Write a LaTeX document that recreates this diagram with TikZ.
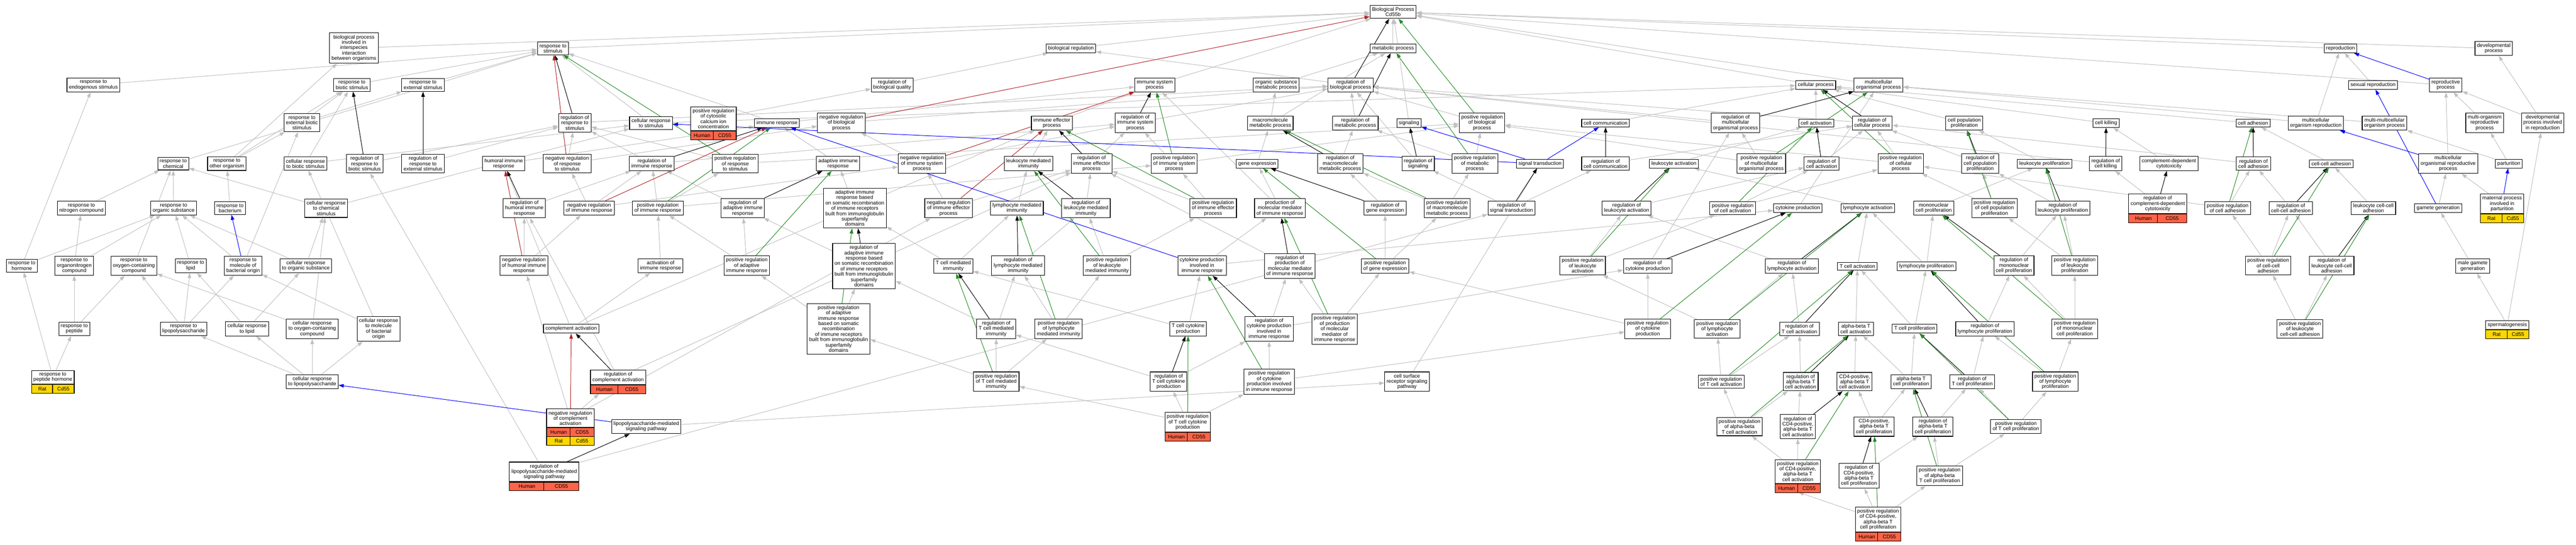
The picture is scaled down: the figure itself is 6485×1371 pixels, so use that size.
\documentclass[tikz,border=0pt]{standalone}
\usepackage{fontspec}
\setmainfont{Liberation Sans}
\usepackage{tikz}
\usetikzlibrary{calc}
\usetikzlibrary{arrows.meta}
\usetikzlibrary{backgrounds}

\definecolor{isagrey}{HTML}{C0C0C0}
\definecolor{posgreen}{HTML}{228B22}
\definecolor{negred}{HTML}{B22222}
\definecolor{partblue}{HTML}{0000FF}
\definecolor{human}{HTML}{FF6347}
\definecolor{rat}{HTML}{FFD700}

\tikzset{
  term/.style={draw, line width=1.4pt, fill=white, align=center,
    font=\fontsize{13}{13.5}\selectfont, inner xsep=5pt, inner ysep=5pt},
  genecell/.style={draw, line width=1.4pt, inner sep=0pt, minimum height=22pt,
    font=\fontsize{13}{13.5}\selectfont},
  link/.style={line width=1.3pt, -{Triangle[length=13pt,width=9pt]}},
  isa/.style={link, isagrey},
  reg/.style={link, black},
  posreg/.style={link, posgreen},
  negreg/.style={link, negred},
  partof/.style={link, partblue}
}

% gene row under a term: [shift]{term}{row}{colour}{species}{gene}
\newcommand{\genes}[6][0pt]{%
  \path let \p1 = ($(#2.east)-(#2.west)$) in
    node[genecell, fill=#4, minimum width=0.5*\x1, anchor=north west, yshift=-#1] (#3-s) at (#2.south west) {#5}
    node[genecell, fill=#4, minimum width=0.5*\x1, anchor=north east, yshift=-#1] (#3-g) at (#2.south east) {#6};}

\begin{document}
\begin{tikzpicture}[x=1pt, y=-1pt]
  \useasboundingbox (0,0) rectangle (6485,1371);

  % top
  \node[term] (root) at (3507,30) {Biological Process\\Cd55b};
  \node[term] (bpint) at (891,121) {biological process\\involved in\\interspecies\\interaction\\between organisms};
  \node[term] (rstim) at (1392,122) {response to\\stimulus};
  \node[term] (bioreg) at (2696,122) {biological regulation};
  \node[term] (metab) at (3507,122) {metabolic process};
  \node[term] (repro) at (5892,122) {reproduction};
  \node[term] (devproc) at (6278,122) {developmental\\process};

  \node[term] (rendo) at (235,214) {response to\\endogenous stimulus};
  \node[term] (rbiot) at (886,214) {response to\\biotic stimulus};
  \node[term] (rext) at (1065,214) {response to\\external stimulus};
  \node[term] (regbq) at (2246,214) {regulation of\\biological quality};
  \node[term] (imsys) at (2907,214) {immune system\\process};
  \node[term] (orgmet) at (3213,214) {organic substance\\metabolic process};
  \node[term] (regbp) at (3400,214) {regulation of\\biological process};
  \node[term] (cellproc) at (4571,214) {cellular process};
  \node[term] (multorg) at (4729,214) {multicellular\\organismal process};
  \node[term] (sexrep) at (5974,214) {sexual reproduction};
  \node[term] (repproc) at (6157,214) {reproductive\\process};

  \node[term] (rextbio) at (760,309) {response to\\external biotic\\stimulus};
  \node[term] (regrstim) at (1447,309) {regulation of\\response to\\stimulus};
  \node[term] (cellrstim) at (1639,310) {cellular response\\to stimulus};
  \node[term] (posca) at (1796,299) {positive regulation\\of cytosolic\\calcium ion\\concentration};
  \genes{posca}{posca}{human}{Human}{CD55}
  \node[term] (imresp) at (1956,310) {immune response};
  \node[term] (negbp) at (2118,309) {negative regulation\\of biological\\process};
  \node[term] (imeff) at (2648,310) {immune effector\\process};
  \node[term] (regimsys) at (2858,309) {regulation of\\immune system\\process};
  \node[term] (macmet) at (3198,310) {macromolecule\\metabolic process};
  \node[term] (regmet) at (3412,310) {regulation of\\metabolic process};
  \node[term] (signaling) at (3547,310) {signaling};
  \node[term] (posbp) at (3731,309) {positive regulation\\of biological\\process};
  \node[term] (cellcomm) at (4042,310) {cell communication};
  \node[term] (regmulti) at (4369,309) {regulation of\\multicellular\\organismal process};
  \node[term] (cellact) at (4572,310) {cell activation};
  \node[term] (regcellproc) at (4713,310) {regulation of\\cellular process};
  \node[term] (cellpop) at (4945,310) {cell population\\proliferation};
  \node[term] (cellkill) at (5302,310) {cell killing};
  \node[term] (celladh) at (5672,310) {cell adhesion};
  \node[term] (multrepro) at (5830,310) {multicellular\\organism reproduction};
  \node[term] (multmulti) at (6003,310) {multi-multicellular\\organism process};
  \node[term] (multorgrep) at (6255,309) {multi-organism\\reproductive\\process};
  \node[term] (devrepro) at (6401,309) {developmental\\process involved\\in reproduction};

  \node[term] (rchem) at (436,412) {response to\\chemical};
  \node[term] (rother) at (571,412) {response to\\other organism};
  \node[term] (cellrbiot) at (769,412) {cellular response\\to biotic stimulus};
  \node[term] (regrbiot) at (918,412) {regulation of\\response to\\biotic stimulus};
  \node[term] (regrext) at (1065,412) {regulation of\\response to\\external stimulus};
  \node[term] (humoral) at (1268,412) {humoral immune\\response};
  \node[term] (negrstim) at (1428,412) {negative regulation\\of response\\to stimulus};
  \node[term] (regimresp) at (1641,412) {regulation of\\immune response};
  \node[term] (posrstim) at (1851,412) {positive regulation\\of response\\to stimulus};
  \node[term] (adaptive) at (2110,412) {adaptive immune\\response};
  \node[term] (negimsys) at (2321,412) {negative regulation\\of immune system\\process};
  \node[term] (leukmed) at (2589,412) {leukocyte mediated\\immunity};
  \node[term] (regimeff) at (2748,412) {regulation of\\immune effector\\process};
  \node[term] (posimsys) at (2956,412) {positive regulation\\of immune system\\process};
  \node[term] (geneexp) at (3165,412) {gene expression};
  \node[term] (regmacmet) at (3374,412) {regulation of\\macromolecule\\metabolic process};
  \node[term] (regsig) at (3570,412) {regulation of\\signaling};
  \node[term] (posmet) at (3713,412) {positive regulation\\of metabolic\\process};
  \node[term] (sigtrans) at (3877,412) {signal transduction};
  \node[term] (regcomm) at (4042,412) {regulation of\\cell communication};
  \node[term] (leukact) at (4214,412) {leukocyte activation};
  \node[term] (posmulti) at (4434,412) {positive regulation\\of multicellular\\organismal process};
  \node[term] (regcellact) at (4586,412) {regulation of\\cell activation};
  \node[term] (poscellproc) at (4785,412) {positive regulation\\of cellular\\process};
  \node[term] (regcellpop) at (4985,412) {regulation of\\cell population\\proliferation};
  \node[term] (leukprol) at (5147,412) {leukocyte proliferation};
  \node[term] (regkill) at (5301,412) {regulation of\\cell killing};
  \node[term] (cdc) at (5460,412) {complement-dependent\\cytotoxicity};
  \node[term] (regadh) at (5673,412) {regulation of\\cell adhesion};
  \node[term] (ccadh) at (5869,412) {cell-cell adhesion};
  \node[term] (multrepproc) at (6163,412) {multicellular\\organismal reproductive\\process};
  \node[term] (parturition) at (6316,412) {parturition};

  \node[term] (rnitro) at (205,524) {response to\\nitrogen compound};
  \node[term] (rorg) at (437,524) {response to\\organic substance};
  \node[term] (rbact) at (579,524) {response to\\bacterium};
  \node[term] (cellrchem) at (821,524) {cellular response\\to chemical\\stimulus};
  \node[term] (reghumoral) at (1320,524) {regulation of\\humoral immune\\response};
  \node[term] (negimresp) at (1483,524) {negative regulation\\of immune response};
  \node[term] (posimresp) at (1656,524) {positive regulation\\of immune response};
  \node[term] (regadapt) at (1870,524) {regulation of\\adaptive immune\\response};
  \node[term] (adaptsom) at (2152,524) {adaptive immune\\response based\\on somatic recombination\\of immune receptors\\built from immunoglobulin\\superfamily\\domains};
  \node[term] (negimeff) at (2388,524) {negative regulation\\of immune effector\\process};
  \node[term] (lymphmed) at (2560,524) {lymphocyte mediated\\immunity};
  \node[term] (regleukmed) at (2734,524) {regulation of\\leukocyte mediated\\immunity};
  \node[term] (posimeff) at (3054,524) {positive regulation\\of immune effector\\process};
  \node[term] (prodmm) at (3222,524) {production of\\molecular mediator\\of immune response};
  \node[term] (reggene) at (3487,524) {regulation of\\gene expression};
  \node[term] (posmacmet) at (3643,524) {positive regulation\\of macromolecule\\metabolic process};
  \node[term] (regsigtrans) at (3805,524) {regulation of\\signal transduction};
  \node[term] (regleukact) at (4095,524) {regulation of\\leukocyte activation};
  \node[term] (poscellact) at (4362,524) {positive regulation\\of cell activation};
  \node[term] (cytprod) at (4526,524) {cytokine production};
  \node[term] (lymphact) at (4702,524) {lymphocyte activation};
  \node[term] (mononuc) at (4868,524) {mononuclear\\cell proliferation};
  \node[term] (poscellpop) at (5021,524) {positive regulation\\of cell population\\proliferation};
  \node[term] (regleukprol) at (5193,524) {regulation of\\leukocyte proliferation};
  \node[term] (regcdc) at (5432,513) {regulation of\\complement-dependent\\cytotoxicity};
  \genes{regcdc}{regcdc}{human}{Human}{CD55}
  \node[term] (posadh) at (5608,524) {positive regulation\\of cell adhesion};
  \node[term] (regccadh) at (5767,524) {regulation of\\cell-cell adhesion};
  \node[term] (leukccadh) at (5975,524) {leukocyte cell-cell\\adhesion};
  \node[term] (gamete) at (6138,524) {gamete generation};
  \node[term] (maternal) at (6299,513) {maternal process\\involved in\\parturition};
  \genes{maternal}{maternal}{rat}{Rat}{Cd55}

  \node[term] (rhormone) at (55,669) {response to\\hormone};
  \node[term] (rorgnitro) at (187,669) {response to\\organonitrogen\\compound};
  \node[term] (roxy) at (337,669) {response to\\oxygen-containing\\compound};
  \node[term] (rlipid) at (480,669) {response to\\lipid};
  \node[term] (rmolbact) at (612,669) {response to\\molecule of\\bacterial origin};
  \node[term] (cellrorg) at (770,669) {cellular response\\to organic substance};
  \node[term] (neghumoral) at (1319,669) {negative regulation\\of humoral immune\\response};
  \node[term] (actimresp) at (1663,669) {activation of\\immune response};
  \node[term] (posadapt) at (1880,669) {positive regulation\\of adaptive\\immune response};
  \node[term] (regadaptsom) at (2175,670) {regulation of\\adaptive immune\\response based\\on somatic recombination\\of immune receptors\\built from immunoglobulin\\superfamily\\domains};
  \node[term] (tcellmed) at (2400,670) {T cell mediated\\immunity};
  \node[term] (reglymphmed) at (2563,669) {regulation of\\lymphocyte mediated\\immunity};
  \node[term] (posleukmed) at (2787,669) {positive regulation\\of leukocyte\\mediated immunity};
  \node[term] (cytimresp) at (3026,669) {cytokine production\\involved in\\immune response};
  \node[term] (regprodmm) at (3247,670) {regulation of\\production of\\molecular mediator\\of immune response};
  \node[term] (posgene) at (3487,670) {positive regulation\\of gene expression};
  \node[term] (posleukact) at (3984,669) {positive regulation\\of leukocyte\\activation};
  \node[term] (regcyt) at (4148,670) {regulation of\\cytokine production};
  \node[term] (reglymphact) at (4511,670) {regulation of\\lymphocyte activation};
  \node[term] (tcellact) at (4676,670) {T cell activation};
  \node[term] (lymphprol) at (4850,670) {lymphocyte proliferation};
  \node[term] (regmononuc) at (5070,669) {regulation of\\mononuclear\\cell proliferation};
  \node[term] (posleukprol) at (5223,669) {positive regulation\\of leukocyte\\proliferation};
  \node[term] (posccadh) at (5710,669) {positive regulation\\of cell-cell\\adhesion};
  \node[term] (regleukccadh) at (5870,669) {regulation of\\leukocyte cell-cell\\adhesion};
  \node[term] (malegam) at (6225,670) {male gamete\\generation};

  \node[term] (rpeptide) at (187,828) {response to\\peptide};
  \node[term] (rlps) at (462,828) {response to\\lipopolysaccharide};
  \node[term] (cellrlipid) at (622,828) {cellular response\\to lipid};
  \node[term] (cellroxy) at (786,828) {cellular response\\to oxygen-containing\\compound};
  \node[term] (cellrmolbact) at (953,828) {cellular response\\to molecule\\of bacterial\\origin};
  \node[term] (complact) at (1438,828) {complement activation};
  \node[term] (posadaptsom) at (2111,828) {positive regulation\\of adaptive\\immune response\\based on somatic\\recombination\\of immune receptors\\built from immunoglobulin\\superfamily\\domains};
  \node[term] (regtcellmed) at (2508,828) {regulation of\\T cell mediated\\immunity};
  \node[term] (poslymphmed) at (2665,828) {positive regulation\\of lymphocyte\\mediated immunity};
  \node[term] (tcellcyt) at (2991,828) {T cell cytokine\\production};
  \node[term] (regcytimresp) at (3195,828) {regulation of\\cytokine production\\involved in\\immune response};
  \node[term] (posprodmm) at (3360,829) {positive regulation\\of production\\of molecular\\mediator of\\immune response};
  \node[term] (poscyt) at (4148,828) {positive regulation\\of cytokine\\production};
  \node[term] (poslymphact) at (4323,828) {positive regulation\\of lymphocyte\\activation};
  \node[term] (regtcellact) at (4530,828) {regulation of\\T cell activation};
  \node[term] (abtcellact) at (4672,828) {alpha-beta T\\cell activation};
  \node[term] (tcellprol) at (4820,828) {T cell proliferation};
  \node[term] (reglymphprol) at (4997,828) {regulation of\\lymphocyte proliferation};
  \node[term] (posmononuc) at (5223,828) {positive regulation\\of mononuclear\\cell proliferation};
  \node[term] (posleukccadh) at (5790,828) {positive regulation\\of leukocyte\\cell-cell adhesion};
  \node[term] (spermato) at (6312,818) {spermatogenesis};
  \genes{spermato}{spermato}{rat}{Rat}{Cd55}

  \node[term] (rpephorm) at (133,950) {response to\\peptide hormone};
  \genes{rpephorm}{rpephorm}{rat}{Rat}{Cd55}
  \node[term] (cellrlps) at (786,961) {cellular response\\to lipopolysaccharide};
  \node[term] (regcomplact) at (1556,950) {regulation of\\complement activation};
  \genes{regcomplact}{regcomplact}{human}{Human}{CD55}
  \node[term] (postcellmed) at (2508,961) {positive regulation\\of T cell mediated\\immunity};
  \node[term] (regtcellcyt) at (2942,961) {regulation of\\T cell cytokine\\production};
  \node[term] (poscytimresp) at (3195,961) {positive regulation\\of cytokine\\production involved\\in immune response};
  \node[term] (cellsurf) at (3542,961) {cell surface\\receptor signaling\\pathway};
  \node[term] (postcellact) at (4333,961) {positive regulation\\of T cell activation};
  \node[term] (regabtcellact) at (4533,961) {regulation of\\alpha-beta T\\cell activation};
  \node[term] (cd4act) at (4669,961) {CD4-positive,\\alpha-beta T\\cell activation};
  \node[term] (abtcellprol) at (4811,961) {alpha-beta T\\cell proliferation};
  \node[term] (regtcellprol) at (4965,961) {regulation of\\T cell proliferation};
  \node[term] (poslymphprol) at (5174,961) {positive regulation\\of lymphocyte\\proliferation};

  \node[term] (negcomplact) at (1436,1053) {negative regulation\\of complement\\activation};
  \genes{negcomplact}{negcomplact}{human}{Human}{CD55}
  \genes[22pt]{negcomplact}{negcomplactr}{rat}{Rat}{Cd55}
  \node[term] (lpssig) at (1627,1074) {lipopolysaccharide-mediated\\signaling pathway};
  \node[term] (postcellcyt) at (2990,1063) {positive regulation\\of T cell cytokine\\production};
  \genes{postcellcyt}{postcellcyt}{human}{Human}{CD55}
  \node[term] (posabtcellact) at (4379,1074) {positive regulation\\of alpha-beta\\T cell activation};
  \node[term] (regcd4act) at (4526,1074) {regulation of\\CD4-positive,\\alpha-beta T\\cell activation};
  \node[term] (cd4prol) at (4718,1074) {CD4-positive,\\alpha-beta T\\cell proliferation};
  \node[term] (regabtcellprol) at (4866,1074) {regulation of\\alpha-beta T\\cell proliferation};
  \node[term] (postcellprol) at (5075,1074) {positive regulation\\of T cell proliferation};

  \node[term] (reglpssig) at (1370,1188) {regulation of\\lipopolysaccharide-mediated\\signaling pathway};
  \genes{reglpssig}{reglpssig}{human}{Human}{CD55}
  \node[term] (poscd4act) at (4526,1187) {positive regulation\\of CD4-positive,\\alpha-beta T\\cell activation};
  \genes{poscd4act}{poscd4act}{human}{Human}{CD55}
  \node[term] (regcd4prol) at (4680,1198) {regulation of\\CD4-positive,\\alpha-beta T\\cell proliferation};
  \node[term] (posabtcellprol) at (4883,1198) {positive regulation\\of alpha-beta\\T cell proliferation};

  \node[term] (poscd4prol) at (4728,1308) {positive regulation\\of CD4-positive,\\alpha-beta T\\cell proliferation};
  \genes{poscd4prol}{poscd4prol}{human}{Human}{CD55}

  \begin{scope}[on background layer]
  \fill[white] (0,0) rectangle (6485,1371);
  % is_a
  \draw[isa] (bpint) -- (root); \draw[isa] (rstim) -- (root); \draw[isa] (bioreg) -- (root);
  \draw[isa] (metab) -- (root); \draw[isa] (repro) -- (root); \draw[isa] (devproc) -- (root);
  \draw[isa] (multorg) -- (root); \draw[isa] (cellproc) -- (root); \draw[isa] (imsys) -- (root);
  \draw[isa] (signaling) -- (root); \draw[isa] (repproc) -- (root);
  \draw[isa] (rendo) -- (rstim); \draw[isa] (rbiot) -- (rstim); \draw[isa] (rext) -- (rstim);
  \draw[isa] (regbq) -- (bioreg); \draw[isa] (orgmet) -- (metab); \draw[isa] (regbp) -- (bioreg);
  \draw[isa] (sexrep) -- (repro);
  \draw[isa] (rextbio) -- (rbiot); \draw[isa] (rextbio) -- (rext); \draw[isa] (regrstim) -- (regbp);
  \draw[isa] (cellrstim) -- (rstim); \draw[isa] (cellrstim) -- (cellproc); \draw[isa] (posca) -- (regbq);
  \draw[isa] (imresp) -- (rstim); \draw[isa] (imresp) -- (imsys); \draw[isa] (negbp) -- (regbp);
  \draw[isa] (imeff) -- (imsys); \draw[isa] (regimsys) -- (regbp); \draw[isa] (macmet) -- (metab);
  \draw[isa] (macmet) -- (orgmet); \draw[isa] (regmet) -- (regbp); \draw[isa] (posbp) -- (regbp);
  \draw[isa] (cellcomm) -- (cellproc); \draw[isa] (regmulti) -- (regbp); \draw[isa] (cellact) -- (cellproc);
  \draw[isa] (regcellproc) -- (regbp); \draw[isa] (cellpop) -- (cellproc); \draw[isa] (cellkill) -- (cellproc);
  \draw[isa] (celladh) -- (cellproc); \draw[isa] (multrepro) -- (repro); \draw[isa] (multrepro) -- (multorg);
  \draw[isa] (multmulti) -- (multorg); \draw[isa] (multorgrep) -- (repproc); \draw[isa] (devrepro) -- (devproc);
  \draw[isa] (devrepro) -- (repproc);
  \draw[isa] (rchem) -- (rstim); \draw[isa] (rother) -- (rbiot); \draw[isa] (rother) -- (bpint);
  \draw[isa] (rother) -- (rextbio); \draw[isa] (cellrbiot) -- (rbiot); \draw[isa] (cellrbiot) -- (cellrstim);
  \draw[isa] (regrbiot) -- (regrstim); \draw[isa] (regrext) -- (regrstim); \draw[isa] (humoral) -- (imresp);
  \draw[isa] (negrstim) -- (regrstim); \draw[isa] (negrstim) -- (negbp); \draw[isa] (regimresp) -- (regrstim);
  \draw[isa] (regimresp) -- (regimsys); \draw[isa] (posrstim) -- (regrstim); \draw[isa] (posrstim) -- (posbp);
  \draw[isa] (adaptive) -- (imresp); \draw[isa] (negimsys) -- (regimsys); \draw[isa] (negimsys) -- (negbp);
  \draw[isa] (leukmed) -- (imeff); \draw[isa] (regimeff) -- (regimsys); \draw[isa] (posimsys) -- (regimsys);
  \draw[isa] (posimsys) -- (posbp); \draw[isa] (geneexp) -- (macmet); \draw[isa] (regmacmet) -- (regmet);
  \draw[isa] (regsig) -- (regbp); \draw[isa] (posmet) -- (regmet); \draw[isa] (posmet) -- (posbp);
  \draw[isa] (regcomm) -- (regcellproc); \draw[isa] (leukact) -- (cellact); \draw[isa] (posmulti) -- (regmulti);
  \draw[isa] (posmulti) -- (posbp); \draw[isa] (regcellact) -- (regcellproc); \draw[isa] (poscellproc) -- (regcellproc);
  \draw[isa] (poscellproc) -- (posbp); \draw[isa] (regcellpop) -- (regcellproc); \draw[isa] (leukprol) -- (cellpop);
  \draw[isa] (regkill) -- (regbp); \draw[isa] (cdc) -- (cellkill); \draw[isa] (regadh) -- (regcellproc);
  \draw[isa] (ccadh) -- (celladh); \draw[isa] (multrepproc) -- (repproc); \draw[isa] (parturition) -- (multmulti);
  \draw[isa] (parturition) -- (multorgrep);
  \draw[isa] (rnitro) -- (rchem); \draw[isa] (rorg) -- (rchem); \draw[isa] (rbact) -- (rother);
  \draw[isa] (cellrchem) -- (rchem); \draw[isa] (cellrchem) -- (cellrstim); \draw[isa] (reghumoral) -- (regimresp);
  \draw[isa] (negimresp) -- (negrstim); \draw[isa] (negimresp) -- (regimresp); \draw[isa] (negimresp) -- (negimsys);
  \draw[isa] (posimresp) -- (regimresp); \draw[isa] (posimresp) -- (posrstim); \draw[isa] (posimresp) -- (posimsys);
  \draw[isa] (regadapt) -- (regimresp); \draw[isa] (adaptsom) -- (adaptive); \draw[isa] (negimeff) -- (regimeff);
  \draw[isa] (negimeff) -- (negimsys); \draw[isa] (lymphmed) -- (leukmed); \draw[isa] (regleukmed) -- (regimeff);
  \draw[isa] (posimeff) -- (regimeff); \draw[isa] (posimeff) -- (posimsys); \draw[isa] (prodmm) -- (imsys);
  \draw[isa] (prodmm) -- (geneexp); \draw[isa] (reggene) -- (regmacmet); \draw[isa] (posmacmet) -- (regmacmet);
  \draw[isa] (posmacmet) -- (posmet); \draw[isa] (regsigtrans) -- (regsig); \draw[isa] (regsigtrans) -- (regcomm);
  \draw[isa] (regleukact) -- (regcellact); \draw[isa] (poscellact) -- (regcellact); \draw[isa] (poscellact) -- (poscellproc);
  \draw[isa] (cytprod) -- (multorg); \draw[isa] (lymphact) -- (leukact); \draw[isa] (mononuc) -- (leukprol);
  \draw[isa] (poscellpop) -- (regcellpop); \draw[isa] (poscellpop) -- (poscellproc); \draw[isa] (regleukprol) -- (regcellpop);
  \draw[isa] (regcdc) -- (regkill); \draw[isa] (posadh) -- (regadh); \draw[isa] (posadh) -- (poscellproc);
  \draw[isa] (regccadh) -- (regadh); \draw[isa] (leukccadh) -- (ccadh); \draw[isa] (gamete) -- (multrepproc);
  \draw[isa] (maternal) -- (multrepproc);
  \draw[isa] (rhormone) -- (rendo); \draw[isa] (rhormone) -- (rorg); \draw[isa] (rorgnitro) -- (rnitro);
  \draw[isa] (rorgnitro) -- (rorg); \draw[isa] (roxy) -- (rchem); \draw[isa] (rlipid) -- (rorg);
  \draw[isa] (rmolbact) -- (rorg); \draw[isa] (rmolbact) -- (rextbio); \draw[isa] (cellrorg) -- (rorg);
  \draw[isa] (cellrorg) -- (cellrchem); \draw[isa] (neghumoral) -- (reghumoral); \draw[isa] (neghumoral) -- (negimresp);
  \draw[isa] (actimresp) -- (posimresp); \draw[isa] (posadapt) -- (regadapt); \draw[isa] (posadapt) -- (posimresp);
  \draw[isa] (regadaptsom) -- (regadapt); \draw[isa] (tcellmed) -- (lymphmed); \draw[isa] (tcellmed) -- (adaptsom);
  \draw[isa] (reglymphmed) -- (regleukmed); \draw[isa] (posleukmed) -- (regleukmed); \draw[isa] (posleukmed) -- (posimeff);
  \draw[isa] (cytimresp) -- (prodmm); \draw[isa] (cytimresp) -- (cytprod); \draw[isa] (regprodmm) -- (regimeff);
  \draw[isa] (posgene) -- (reggene); \draw[isa] (posgene) -- (posmacmet); \draw[isa] (posleukact) -- (regleukact);
  \draw[isa] (posleukact) -- (poscellact); \draw[isa] (regcyt) -- (regmulti); \draw[isa] (reglymphact) -- (regleukact);
  \draw[isa] (tcellact) -- (lymphact); \draw[isa] (lymphprol) -- (mononuc); \draw[isa] (lymphprol) -- (lymphact);
  \draw[isa] (regmononuc) -- (regleukprol); \draw[isa] (posleukprol) -- (regleukprol); \draw[isa] (posleukprol) -- (poscellpop);
  \draw[isa] (posccadh) -- (regccadh); \draw[isa] (posccadh) -- (posadh); \draw[isa] (regleukccadh) -- (regccadh);
  \draw[isa] (malegam) -- (gamete);
  \draw[isa] (rpeptide) -- (rorgnitro); \draw[isa] (rpeptide) -- (roxy); \draw[isa] (rlps) -- (rmolbact);
  \draw[isa] (rlps) -- (roxy); \draw[isa] (rlps) -- (rlipid); \draw[isa] (cellrlipid) -- (rlipid);
  \draw[isa] (cellrlipid) -- (cellrorg); \draw[isa] (cellroxy) -- (roxy); \draw[isa] (cellroxy) -- (cellrchem);
  \draw[isa] (cellrmolbact) -- (rmolbact); \draw[isa] (cellrmolbact) -- (cellrbiot); \draw[isa] (complact) -- (humoral);
  \draw[isa] (complact) -- (actimresp); \draw[isa] (complact) -- (imeff); \draw[isa] (posadaptsom) -- (regadaptsom);
  \draw[isa] (posadaptsom) -- (posadapt); \draw[isa] (regtcellmed) -- (reglymphmed); \draw[isa] (regtcellmed) -- (regadaptsom);
  \draw[isa] (poslymphmed) -- (reglymphmed); \draw[isa] (poslymphmed) -- (posleukmed); \draw[isa] (tcellcyt) -- (cytimresp);
  \draw[isa] (tcellcyt) -- (tcellmed); \draw[isa] (regcytimresp) -- (regprodmm); \draw[isa] (regcytimresp) -- (regcyt);
  \draw[isa] (posprodmm) -- (regprodmm); \draw[isa] (posprodmm) -- (posgene); \draw[isa] (poscyt) -- (regcyt);
  \draw[isa] (poscyt) -- (posgene); \draw[isa] (poslymphact) -- (reglymphact); \draw[isa] (poslymphact) -- (posleukact);
  \draw[isa] (regtcellact) -- (reglymphact); \draw[isa] (abtcellact) -- (tcellact); \draw[isa] (tcellprol) -- (lymphprol);
  \draw[isa] (tcellprol) -- (tcellact); \draw[isa] (reglymphprol) -- (regmononuc); \draw[isa] (posmononuc) -- (regmononuc);
  \draw[isa] (posmononuc) -- (posleukprol); \draw[isa] (posleukccadh) -- (regleukccadh); \draw[isa] (posleukccadh) -- (posccadh);
  \draw[isa] (spermato) -- (malegam); \draw[isa] (spermato) -- (devrepro);
  \draw[isa] (rpephorm) -- (rhormone); \draw[isa] (rpephorm) -- (rpeptide); \draw[isa] (cellrlps) -- (rlps);
  \draw[isa] (cellrlps) -- (cellrlipid); \draw[isa] (cellrlps) -- (cellroxy); \draw[isa] (cellrlps) -- (cellrmolbact);
  \draw[isa] (regcomplact) -- (reghumoral); \draw[isa] (regcomplact) -- (regimeff);
  \draw[isa] (postcellmed) -- (regtcellmed); \draw[isa] (postcellmed) -- (poslymphmed); \draw[isa] (postcellmed) -- (posadaptsom);
  \draw[isa] (regtcellcyt) -- (regcytimresp); \draw[isa] (regtcellcyt) -- (regtcellmed); \draw[isa] (poscytimresp) -- (regcytimresp);
  \draw[isa] (poscytimresp) -- (poscyt); \draw[isa] (cellsurf) -- (sigtrans); \draw[isa] (postcellact) -- (regtcellact);
  \draw[isa] (postcellact) -- (poslymphact); \draw[isa] (regabtcellact) -- (regtcellact); \draw[isa] (cd4act) -- (abtcellact);
  \draw[isa] (abtcellprol) -- (tcellprol); \draw[isa] (abtcellprol) -- (abtcellact); \draw[isa] (regtcellprol) -- (reglymphprol);
  \draw[isa] (poslymphprol) -- (reglymphprol); \draw[isa] (poslymphprol) -- (posmononuc);
  \draw[isa] (negcomplact) -- (regcomplact-s); \draw[isa] (negcomplact) -- (neghumoral); \draw[isa] (negcomplact) -- (negimeff);
  \draw[isa] (lpssig) -- (cellsurf); \draw[isa] (postcellcyt) -- (regtcellcyt); \draw[isa] (postcellcyt) -- (poscytimresp);
  \draw[isa] (postcellcyt) -- (postcellmed); \draw[isa] (posabtcellact) -- (regabtcellact); \draw[isa] (posabtcellact) -- (postcellact);
  \draw[isa] (regcd4act) -- (regabtcellact); \draw[isa] (cd4prol) -- (abtcellprol); \draw[isa] (cd4prol) -- (cd4act);
  \draw[isa] (regabtcellprol) -- (regtcellprol); \draw[isa] (postcellprol) -- (regtcellprol); \draw[isa] (postcellprol) -- (poslymphprol);
  \draw[isa] (reglpssig) -- (regsigtrans); \draw[isa] (reglpssig) -- (regrbiot);
  \draw[isa] (poscd4act) -- (regcd4act); \draw[isa] (poscd4act) -- (posabtcellact); \draw[isa] (regcd4prol) -- (regabtcellprol);
  \draw[isa] (posabtcellprol) -- (regabtcellprol); \draw[isa] (posabtcellprol) -- (postcellprol);
  \draw[isa] (poscd4prol) -- (regcd4prol); \draw[isa] (poscd4prol) -- (poscd4act-s); \draw[isa] (poscd4prol) -- (posabtcellprol);

  % regulates
  \draw[reg] (regbp) -- (root); \draw[reg] (regrstim) -- (rstim); \draw[reg] (regimsys) -- (imsys);
  \draw[reg] (regmet) -- (metab); \draw[reg] (regmulti) -- (multorg); \draw[reg] (regcellproc) -- (cellproc);
  \draw[reg] (regrbiot) -- (rbiot); \draw[reg] (regrext) -- (rext); \draw[reg] (regimresp) -- (imresp);
  \draw[reg] (regimeff) -- (imeff); \draw[reg] (regmacmet) -- (macmet); \draw[reg] (regsig) -- (signaling);
  \draw[reg] (regcomm) -- (cellcomm); \draw[reg] (regcellact) -- (cellact); \draw[reg] (regcellpop) -- (cellpop);
  \draw[reg] (regkill) -- (cellkill); \draw[reg] (regadh) -- (celladh); \draw[reg] (reghumoral) -- (humoral);
  \draw[reg] (regadapt) -- (adaptive); \draw[reg] (regleukmed) -- (leukmed); \draw[reg] (reggene) -- (geneexp);
  \draw[reg] (regsigtrans) -- (sigtrans); \draw[reg] (regleukact) -- (leukact); \draw[reg] (regleukprol) -- (leukprol);
  \draw[reg] (regcdc) -- (cdc); \draw[reg] (regccadh) -- (ccadh); \draw[reg] (regadaptsom) -- (adaptsom);
  \draw[reg] (reglymphmed) -- (lymphmed); \draw[reg] (regprodmm) -- (prodmm); \draw[reg] (regcyt) -- (cytprod);
  \draw[reg] (reglymphact) -- (lymphact); \draw[reg] (regmononuc) -- (mononuc); \draw[reg] (regleukccadh) -- (leukccadh);
  \draw[reg] (regtcellmed) -- (tcellmed); \draw[reg] (regcytimresp) -- (cytimresp); \draw[reg] (regtcellact) -- (tcellact);
  \draw[reg] (reglymphprol) -- (lymphprol); \draw[reg] (regcomplact) -- (complact); \draw[reg] (regtcellcyt) -- (tcellcyt);
  \draw[reg] (regabtcellact) -- (abtcellact); \draw[reg] (regtcellprol) -- (tcellprol); \draw[reg] (regcd4act) -- (cd4act);
  \draw[reg] (regabtcellprol) -- (abtcellprol); \draw[reg] (reglpssig) -- (lpssig); \draw[reg] (regcd4prol) -- (cd4prol);

  % positively regulates
  \draw[posreg] (posbp) -- (root); \draw[posreg] (posrstim) -- (rstim); \draw[posreg] (posimsys) -- (imsys);
  \draw[posreg] (posmet) -- (metab); \draw[posreg] (posmulti) -- (multorg); \draw[posreg] (poscellproc) -- (cellproc);
  \draw[posreg] (posimresp) -- (imresp); \draw[posreg] (posimeff) -- (imeff); \draw[posreg] (posmacmet) -- (macmet);
  \draw[posreg] (poscellact) -- (cellact); \draw[posreg] (poscellpop) -- (cellpop); \draw[posreg] (posadh) -- (celladh);
  \draw[posreg] (posadapt) -- (adaptive); \draw[posreg] (posleukmed) -- (leukmed); \draw[posreg] (posgene) -- (geneexp);
  \draw[posreg] (posleukact) -- (leukact); \draw[posreg] (posleukprol) -- (leukprol); \draw[posreg] (posccadh) -- (ccadh);
  \draw[posreg] (posadaptsom) -- (adaptsom); \draw[posreg] (poslymphmed) -- (lymphmed); \draw[posreg] (posprodmm) -- (prodmm);
  \draw[posreg] (poscyt) -- (cytprod); \draw[posreg] (poslymphact) -- (lymphact); \draw[posreg] (posmononuc) -- (mononuc);
  \draw[posreg] (posleukccadh) -- (leukccadh); \draw[posreg] (postcellmed) -- (tcellmed); \draw[posreg] (poscytimresp) -- (cytimresp);
  \draw[posreg] (postcellact) -- (tcellact); \draw[posreg] (poslymphprol) -- (lymphprol); \draw[posreg] (postcellcyt) -- (tcellcyt);
  \draw[posreg] (posabtcellact) -- (abtcellact); \draw[posreg] (postcellprol) -- (tcellprol); \draw[posreg] (poscd4act) -- (cd4act);
  \draw[posreg] (posabtcellprol) -- (abtcellprol); \draw[posreg] (poscd4prol) -- (cd4prol);

  % negatively regulates
  \draw[negreg] (negbp) -- (root); \draw[negreg] (negrstim) -- (rstim); \draw[negreg] (negimsys) -- (imsys);
  \draw[negreg] (negimresp) -- (imresp); \draw[negreg] (negimeff) -- (imeff); \draw[negreg] (neghumoral) -- (humoral);
  \draw[negreg] (negcomplact) -- (complact);

  % part of
  \draw[partof] (repproc) -- (repro); \draw[partof] (sigtrans) -- (signaling); \draw[partof] (sigtrans) -- (cellcomm);
  \draw[partof] (sigtrans) -- (cellrstim); \draw[partof] (rmolbact) -- (rbact); \draw[partof] (gamete) -- (sexrep);
  \draw[partof] (maternal) -- (parturition); \draw[partof] (multrepproc) -- (multrepro); \draw[partof] (lpssig) -- (cellrlps);
  \draw[partof] (cytimresp) -- (imresp);
  \end{scope}
\end{tikzpicture}
\end{document}
